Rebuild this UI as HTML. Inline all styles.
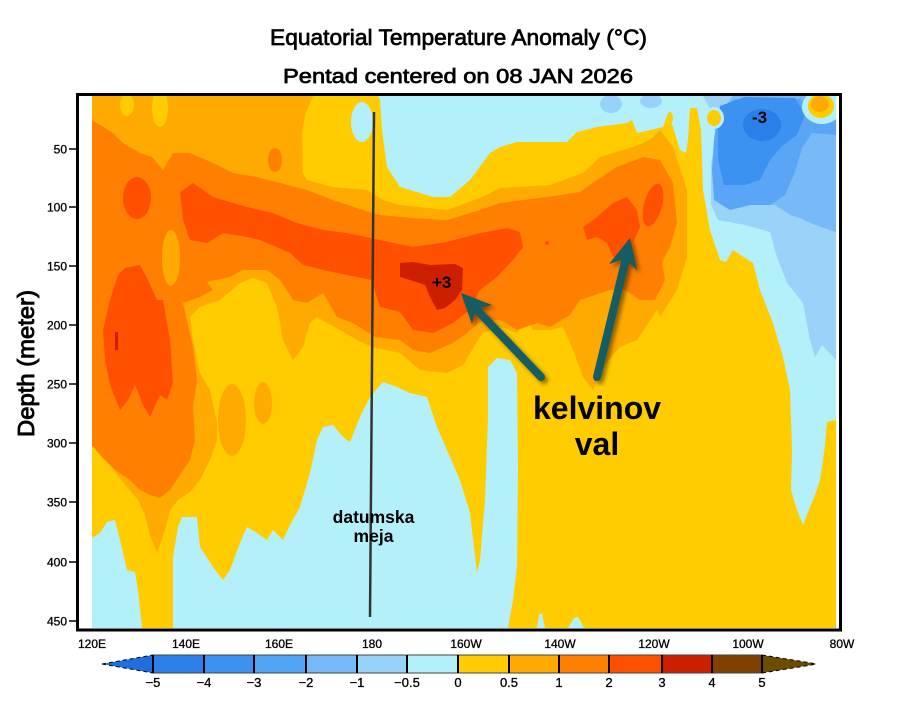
<!DOCTYPE html>
<html><head><meta charset="utf-8">
<style>
html,body{margin:0;padding:0;background:#fff;}
svg{display:block;}
text{font-family:"Liberation Sans",Arial,sans-serif;fill:#000;}
</style></head>
<body>
<svg width="900" height="725" viewBox="0 0 900 725" xmlns="http://www.w3.org/2000/svg">
<defs>
<filter id="sh" x="-30%" y="-30%" width="160%" height="160%">
<feDropShadow dx="3" dy="3" stdDeviation="2" flood-color="#000" flood-opacity="0.45"/>
</filter>
<clipPath id="clip"><rect x="92" y="96" width="744" height="532"/></clipPath>
</defs>
<rect width="900" height="725" fill="#fff"/>

<g clip-path="url(#clip)">
<rect x="92" y="96" width="744" height="532" fill="#ffcc00"/>

<!-- cyan regions -->
<polygon fill="#b4f0fa" points="378,96 380,100 382,130 387,167 400,187 433,197 450,197 470,180 490,153 500,147 517,142 567,142 577,132 597,127 627,123 632,120 637,133 663,127 668,113 673,127 680,150 686,153 688,140 690,108 697,108 701,130 703,190 710,230 720,260 726,262 733,250 753,263 760,290 773,323 783,357 790,390 792,450 791,490 797,510 803,525 808,512 815,495 820,480 823,460 825,445 827,422 836,420 836,96"/>
<polygon fill="#b4f0fa" points="92,538 100,533 107,522 115,520 120,540 127,570 135,572 138,590 142,628 92,628"/>
<polygon fill="#b4f0fa" points="173,628 173,557 178,527 182,517 197,517 200,547 213,567 223,580 230,570 240,543 247,527 257,533 267,540 273,530 283,540 290,525 300,507 310,473 317,440 323,427 333,425 343,437 350,442 360,417 370,397 383,382 397,387 410,393 427,397 437,427 447,450 460,480 470,513 477,573 480,560 485,500 488,417 488,367 497,358 510,360 517,373 518,467 517,567 513,600 508,628"/>
<polygon fill="#b4f0fa" points="537,628 539,615 542,613 545,628"/>
<polygon fill="#b4f0fa" points="568,628 574,618 578,617 584,628"/>
<ellipse cx="362" cy="122" rx="11" ry="20" fill="#b4f0fa"/>
<ellipse cx="611" cy="104" rx="11" ry="9" fill="#97d2fa"/>
<ellipse cx="651" cy="101" rx="11" ry="7" fill="#97d2fa"/>
<ellipse cx="670" cy="118" rx="3" ry="6" fill="#ffcc00"/>

<!-- 0.5-1 -->
<polygon fill="#ffaa00" points="92,96 313,96 305,115 302,133 303,173 307,180 333,187 367,190 383,200 400,205 447,210 480,198 500,188 550,185 583,173 600,157 633,147 650,140 660,130 673,147 687,190 687,257 677,290 660,317 657,310 637,340 620,347 603,367 593,390 583,377 573,350 563,327 550,330 533,330 527,320 517,333 500,327 483,333 475,345 463,365 447,373 420,370 400,353 372,347 357,340 340,330 327,323 317,317 310,323 303,347 293,360 283,340 277,307 267,283 253,278 240,283 220,300 200,307 190,317 193,340 200,373 210,390 217,423 217,440 210,460 200,480 190,492 178,500 170,510 165,530 157,553 150,535 145,515 138,500 128,488 118,476 108,462 100,448 92,447"/>
<ellipse cx="127" cy="105" rx="7" ry="11" fill="#ffcc00"/>
<ellipse cx="160" cy="108" rx="8" ry="19" fill="#ffcc00"/>
<ellipse cx="232" cy="420" rx="14" ry="36" fill="#ffaa00"/>
<ellipse cx="263" cy="403" rx="9" ry="21" fill="#ffaa00"/>
<ellipse cx="275" cy="160" rx="7" ry="12" fill="#ff8000"/>

<!-- 1-2 -->
<polygon fill="#ff8000" points="92,120 113,133 123,143 140,153 152,157 163,170 173,153 190,153 213,163 233,173 257,177 280,183 307,190 333,200 363,210 380,215 413,218 447,220 480,210 500,203 547,197 580,192 597,180 617,167 643,157 660,160 673,183 677,223 670,247 662,262 665,280 655,300 640,300 625,290 610,290 595,295 580,300 570,315 550,327 537,323 517,330 500,320 480,322 467,333 453,343 430,353 413,350 400,340 375,337 353,323 337,317 323,293 307,303 293,300 280,280 267,270 243,270 230,277 207,282 213,290 200,297 183,303 193,347 197,380 193,407 195,440 190,460 180,475 170,490 160,498 150,495 140,490 130,480 115,470 100,455 92,445"/>
<ellipse cx="171" cy="258" rx="9" ry="28" fill="#ffaa00"/>

<!-- 2-3 -->
<polygon fill="#ff5000" points="180,192 193,183 213,197 247,207 273,213 297,223 323,230 347,233 380,240 413,247 447,242 480,233 507,228 520,232 523,247 513,260 497,277 480,290 470,310 453,323 433,333 413,330 400,312 380,307 376,295 372,280 347,275 323,270 303,265 290,253 260,240 247,237 223,233 207,243 190,240 183,220"/>
<polygon fill="#ff5000" points="583,227 597,217 613,203 627,197 637,210 640,227 633,243 627,253 613,257 607,243 597,237 587,240"/>
<ellipse cx="653" cy="205" rx="9" ry="22" transform="rotate(15 653 205)" fill="#ff5000"/>
<ellipse cx="137" cy="198" rx="14" ry="21" fill="#ff5000"/>
<polygon fill="#ff5000" points="103,330 110,300 118,275 125,268 140,265 148,280 157,300 163,300 170,340 173,383 167,400 160,395 153,410 150,417 143,405 135,385 128,400 120,410 110,385 105,360"/>
<circle cx="547" cy="243" r="2" fill="#ff5000"/>

<!-- 3-4 -->
<polygon fill="#cc1f00" points="400,263 413,262 430,265 455,264 463,268 462,290 455,300 445,308 437,310 430,297 425,285 410,280 400,277"/>
<rect x="115" y="332" width="3" height="18" fill="#cc1f00"/>

<!-- blues -->
<polygon fill="#9ad2fa" points="703,96 712,112 716,135 711,165 711,205 718,220 745,225 770,232 777,257 787,283 803,303 810,340 815,357 822,345 836,360 836,96"/>
<polygon fill="#78b9f7" points="733,96 836,96 836,232 815,225 800,218 790,215 775,205 750,205 735,208 720,200 713,180 716,140 722,110"/>
<polygon fill="#5aa5f5" points="718,110 735,99 800,99 815,113 836,117 836,135 812,133 802,148 795,172 785,195 770,205 750,205 730,210 714,200 712,170 714,140"/>
<polygon fill="#3c92f0" points="720,106 745,97 795,98 805,115 797,135 782,146 770,160 760,180 745,185 724,185 718,160 718,130"/>
<ellipse cx="762" cy="125" rx="19" ry="16" fill="#2a80e8"/>
<ellipse cx="714" cy="118" rx="10" ry="11" fill="#b4f0fa"/>
<ellipse cx="714" cy="118" rx="7" ry="8" fill="#ffcc00"/>
<ellipse cx="822" cy="107" rx="20" ry="17" fill="#b4f0fa"/>
<ellipse cx="821" cy="106" rx="13" ry="12" fill="#ffcc00"/>
<ellipse cx="820" cy="104" rx="9" ry="8" fill="#ffaa00"/>
</g>

<!-- frame -->
<rect x="77.5" y="94.5" width="763" height="535.5" fill="none" stroke="#000" stroke-width="3"/>

<!-- date line -->
<line x1="374" y1="112" x2="370" y2="617" stroke="#333" stroke-width="2.5"/>

<!-- y ticks -->
<g stroke="#000" stroke-width="1.5">
<line x1="69" y1="149" x2="77" y2="149"/>
<line x1="69" y1="207" x2="77" y2="207"/>
<line x1="69" y1="266" x2="77" y2="266"/>
<line x1="69" y1="325" x2="77" y2="325"/>
<line x1="69" y1="384" x2="77" y2="384"/>
<line x1="69" y1="443" x2="77" y2="443"/>
<line x1="69" y1="502" x2="77" y2="502"/>
<line x1="69" y1="562" x2="77" y2="562"/>
<line x1="69" y1="621" x2="77" y2="621"/>
</g>
<g font-size="12" text-anchor="end" stroke="#000" stroke-width="0.3">
<text x="67" y="153.5">50</text>
<text x="67" y="211.5">100</text>
<text x="67" y="270.5">150</text>
<text x="67" y="329.5">200</text>
<text x="67" y="388.5">250</text>
<text x="67" y="447.5">300</text>
<text x="67" y="506.5">350</text>
<text x="67" y="566.5">400</text>
<text x="67" y="625.5">450</text>
</g>

<!-- x labels -->
<g font-size="12" text-anchor="middle" stroke="#000" stroke-width="0.3">
<text x="92" y="648">120E</text>
<text x="186" y="648">140E</text>
<text x="279" y="648">160E</text>
<text x="372" y="648">180</text>
<text x="466" y="648">160W</text>
<text x="560" y="648">140W</text>
<text x="654" y="648">120W</text>
<text x="748" y="648">100W</text>
<text x="842" y="648">80W</text>
</g>

<!-- titles -->
<text x="270" y="45" font-size="22" textLength="377" lengthAdjust="spacingAndGlyphs" stroke="#000" stroke-width="0.7">Equatorial Temperature Anomaly (°C)</text>
<text x="283" y="83" font-size="20" textLength="350" lengthAdjust="spacingAndGlyphs" stroke="#000" stroke-width="0.7">Pentad centered on 08 JAN 2026</text>
<text transform="translate(34,363.5) rotate(-90)" font-size="23" text-anchor="middle" textLength="147" lengthAdjust="spacingAndGlyphs" stroke="#000" stroke-width="0.9">Depth (meter)</text>

<!-- colorbar -->
<polygon points="102,664 153,655 153,673" fill="#1f6fe0"/>
<line x1="102" y1="664" x2="153" y2="655" stroke="#000" stroke-width="1" stroke-dasharray="4,3"/>
<line x1="102" y1="664" x2="153" y2="673" stroke="#000" stroke-width="1" stroke-dasharray="4,3"/>
<rect x="153" y="655" width="51" height="18" fill="#2a80e8"/>
<rect x="204" y="655" width="50" height="18" fill="#3c92f0"/>
<rect x="254" y="655" width="52" height="18" fill="#50a5f5"/>
<rect x="306" y="655" width="51" height="18" fill="#78b9f7"/>
<rect x="357" y="655" width="50" height="18" fill="#97d2fa"/>
<rect x="407" y="655" width="51" height="18" fill="#b4f0fa"/>
<rect x="458" y="655" width="51" height="18" fill="#ffcc00"/>
<rect x="509" y="655" width="50" height="18" fill="#ffaa00"/>
<rect x="559" y="655" width="50" height="18" fill="#ff8000"/>
<rect x="609" y="655" width="53" height="18" fill="#ff5000"/>
<rect x="662" y="655" width="50" height="18" fill="#cc1f00"/>
<rect x="712" y="655" width="50" height="18" fill="#7f4000"/>
<polygon points="762,655 762,673 817,664" fill="#6b4c00"/>
<line x1="762" y1="655" x2="817" y2="664" stroke="#000" stroke-width="1" stroke-dasharray="4,3"/>
<line x1="762" y1="673" x2="817" y2="664" stroke="#000" stroke-width="1" stroke-dasharray="4,3"/>
<rect x="153" y="655" width="609" height="18" fill="none" stroke="#444" stroke-width="1"/>
<g stroke="#000" stroke-width="2">
<line x1="153" y1="655" x2="153" y2="673"/>
<line x1="204" y1="655" x2="204" y2="673"/>
<line x1="254" y1="655" x2="254" y2="673"/>
<line x1="306" y1="655" x2="306" y2="673"/>
<line x1="357" y1="655" x2="357" y2="673"/>
<line x1="407" y1="655" x2="407" y2="673"/>
<line x1="458" y1="655" x2="458" y2="673"/>
<line x1="509" y1="655" x2="509" y2="673"/>
<line x1="559" y1="655" x2="559" y2="673"/>
<line x1="609" y1="655" x2="609" y2="673"/>
<line x1="662" y1="655" x2="662" y2="673"/>
<line x1="712" y1="655" x2="712" y2="673"/>
<line x1="762" y1="655" x2="762" y2="673"/>
</g>
<g font-size="13" text-anchor="middle" stroke="#000" stroke-width="0.3">
<text x="153" y="687">−5</text>
<text x="204" y="687">−4</text>
<text x="254" y="687">−3</text>
<text x="306" y="687">−2</text>
<text x="357" y="687">−1</text>
<text x="407" y="687">−0.5</text>
<text x="458" y="687">0</text>
<text x="509" y="687">0.5</text>
<text x="559" y="687">1</text>
<text x="609" y="687">2</text>
<text x="662" y="687">3</text>
<text x="712" y="687">4</text>
<text x="762" y="687">5</text>
</g>

<!-- arrows -->
<g filter="url(#sh)" fill="#145b63" stroke="#145b63">
<line x1="541" y1="377" x2="478" y2="311" stroke-width="8" stroke-linecap="round"/>
<polygon points="461,293 492,305 476,309 472,324" stroke="none"/>
<line x1="597" y1="377" x2="625" y2="262" stroke-width="8" stroke-linecap="round"/>
<polygon points="630,238 637,270 625,259 609,264" stroke="none"/>
</g>

<!-- annotations -->
<text x="432" y="288" font-size="17" font-weight="bold">+3</text>
<text x="752" y="123" font-size="17" font-weight="bold">-3</text>
<text x="597" y="419" font-size="32" font-weight="bold" text-anchor="middle">kelvinov</text>
<text x="597" y="455" font-size="32" font-weight="bold" text-anchor="middle">val</text>
<text x="373.5" y="523" font-size="17.5" font-weight="bold" text-anchor="middle">datumska</text>
<text x="373.5" y="542" font-size="17.5" font-weight="bold" text-anchor="middle">meja</text>
</svg>
</body></html>
